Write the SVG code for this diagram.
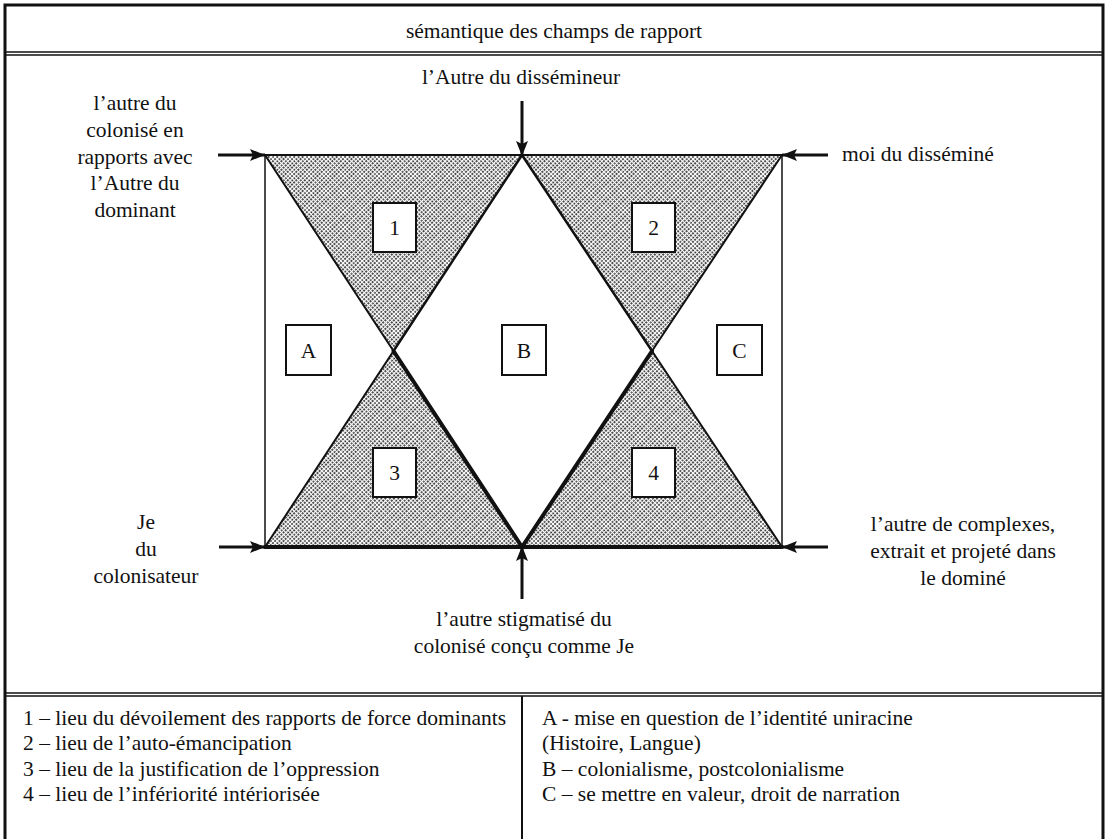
<svg xmlns="http://www.w3.org/2000/svg" width="1107" height="839" viewBox="0 0 1107 839" font-family="'Liberation Serif', 'DejaVu Serif', serif">
<style>
text{font-family:'Liberation Serif','DejaVu Serif',serif;font-size:21.5px;fill:#111}
.c{text-anchor:middle}
.frame{stroke:#111;fill:none}
.box{fill:#fff;stroke:#111;stroke-width:2}
.tri{fill:url(#stip);stroke:none}
.ln{stroke:#111;fill:none;stroke-linecap:round}
.arr{stroke:#111;stroke-width:3;fill:none;marker-end:url(#ah)}
</style>
<defs>
<pattern id="stip" width="6" height="6" patternUnits="userSpaceOnUse" patternTransform="rotate(-45)">
<rect width="6" height="6" fill="#fff"/>
<line x1="0" y1="1" x2="6" y2="1" stroke="#111" stroke-width="1.3" stroke-dasharray="2 1"/>
<rect x="0.3" y="3.4" width="1.6" height="1.6" fill="#111"/>
<rect x="3.3" y="3.4" width="1.6" height="1.6" fill="#111"/>
</pattern>
<marker id="ah" markerUnits="userSpaceOnUse" markerWidth="16" markerHeight="14" refX="15" refY="7" orient="auto">
<path d="M0,1 L15,7 L0,13 L3,7 z" fill="#111"/>
</marker>
</defs>

<g id="frame">
<path class="frame" stroke-width="3" d="M5,845 V5 H1103 V845"/>
<line class="frame" stroke-width="1.5" x1="5" y1="52" x2="1103" y2="52"/>
<line class="frame" stroke-width="1.5" x1="5" y1="55" x2="1103" y2="55"/>
<line class="frame" stroke-width="1.5" x1="5" y1="693" x2="1103" y2="693"/>
<line class="frame" stroke-width="1.5" x1="5" y1="696" x2="1103" y2="696"/>
<line class="frame" stroke-width="2" x1="522" y1="696" x2="522" y2="845"/>
<text id="title" class="c" x="554" y="38">sémantique des champs de rapport</text>
</g>

<g id="field">
<polygon id="zone1" class="tri" points="265,155 522,155 393.5,351"/>
<polygon id="zone2" class="tri" points="522,155 782,155 652,351"/>
<polygon id="zone3" class="tri" points="393.5,351 265,547 522,547"/>
<polygon id="zone4" class="tri" points="652,351 522,547 782,547"/>
<line class="ln" stroke-width="1.5" x1="265" y1="155" x2="265" y2="547"/>
<line class="ln" stroke-width="1.5" x1="782" y1="155" x2="782" y2="547"/>
<line class="ln" stroke-width="2" x1="265" y1="155" x2="782" y2="155"/>
<line class="ln" stroke-width="4" x1="265" y1="547" x2="782" y2="547"/>
<line class="ln" stroke-width="2" x1="265" y1="155" x2="393.5" y2="351"/>
<line class="ln" stroke-width="2.5" x1="522" y1="155" x2="393.5" y2="351"/>
<line class="ln" stroke-width="2.5" x1="522" y1="155" x2="652" y2="351"/>
<line class="ln" stroke-width="2" x1="782" y1="155" x2="652" y2="351"/>
<line class="ln" stroke-width="2" x1="393.5" y1="351" x2="265" y2="547"/>
<line class="ln" stroke-width="4" x1="393.5" y1="351" x2="522" y2="547"/>
<line class="ln" stroke-width="4" x1="652" y1="351" x2="522" y2="547"/>
<line class="ln" stroke-width="2" x1="652" y1="351" x2="782" y2="547"/>
</g>

<g id="connectors">
<line class="arr" stroke-width="2.5" x1="522" y1="101" x2="522" y2="156"/>
<line class="arr" x1="218" y1="155" x2="265" y2="155"/>
<line class="arr" x1="828" y1="155" x2="782" y2="155"/>
<line class="arr" x1="219" y1="547" x2="265" y2="547"/>
<line class="arr" x1="828" y1="547" x2="782" y2="547"/>
<line class="arr" stroke-width="2.5" x1="522" y1="599" x2="522" y2="546"/>
</g>

<g id="box1"><rect class="box" x="373" y="203" width="43" height="49"/><text class="c" x="394.5" y="235">1</text></g>
<g id="box2"><rect class="box" x="632" y="203" width="43" height="49"/><text class="c" x="653.5" y="235">2</text></g>
<g id="box3"><rect class="box" x="373" y="448" width="43" height="49"/><text class="c" x="394.5" y="480">3</text></g>
<g id="box4"><rect class="box" x="632" y="448" width="43" height="49"/><text class="c" x="653.5" y="480">4</text></g>
<g id="boxA"><rect class="box" x="286" y="325" width="45" height="50"/><text class="c" x="308.5" y="358">A</text></g>
<g id="boxB"><rect class="box" x="502" y="325" width="44" height="50"/><text class="c" x="524" y="358">B</text></g>
<g id="boxC"><rect class="box" x="717" y="325" width="45" height="50"/><text class="c" x="739.5" y="358">C</text></g>

<g id="label-top"><text class="c" x="521" y="84">l’Autre du dissémineur</text></g>
<g id="label-topleft">
<text class="c" x="135" y="110">l’autre du</text>
<text class="c" x="135" y="137">colonisé en</text>
<text class="c" x="135" y="164">rapports avec</text>
<text class="c" x="135" y="190">l’Autre du</text>
<text class="c" x="135" y="217">dominant</text>
</g>
<g id="label-topright"><text x="842" y="161">moi du disséminé</text></g>
<g id="label-bottomleft">
<text class="c" x="146" y="529">Je</text>
<text class="c" x="146" y="556">du</text>
<text class="c" x="146" y="583">colonisateur</text>
</g>
<g id="label-bottomright">
<text class="c" x="963" y="531">l’autre de complexes,</text>
<text class="c" x="963" y="558">extrait et projeté dans</text>
<text class="c" x="963" y="585">le dominé</text>
</g>
<g id="label-bottom">
<text class="c" x="524" y="626">l’autre stigmatisé du</text>
<text class="c" x="524" y="653">colonisé conçu comme Je</text>
</g>

<g id="legend-left">
<text x="23" y="725">1 – lieu du dévoilement des rapports de force dominants</text>
<text x="23" y="750">2 – lieu de l’auto-émancipation</text>
<text x="23" y="776">3 – lieu de la justification de l’oppression</text>
<text x="23" y="801">4 – lieu de l’infériorité intériorisée</text>
</g>
<g id="legend-right">
<text x="542" y="725">A - mise en question de l’identité uniracine</text>
<text x="542" y="750">(Histoire, Langue)</text>
<text x="542" y="776">B – colonialisme, postcolonialisme</text>
<text x="542" y="801">C – se mettre en valeur, droit de narration</text>
</g>
</svg>
